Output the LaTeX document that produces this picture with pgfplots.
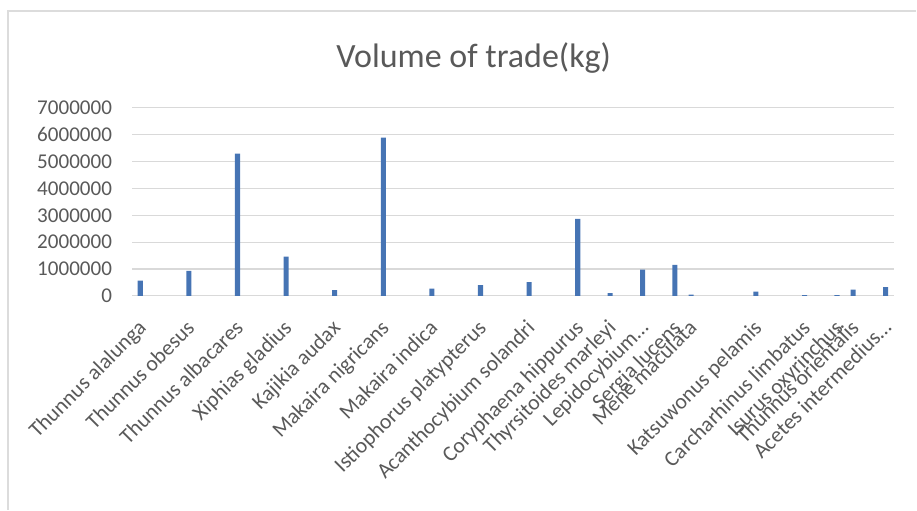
\documentclass[border=0pt]{standalone}
\usepackage{fontspec}
\setmainfont{Carlito}
\usepackage{pgfplots}
\pgfplotsset{compat=1.18}
\usepackage{pgfplotstable}

\definecolor{barblue}{RGB}{70,116,180}
\definecolor{txtgray}{RGB}{89,89,89}
\definecolor{gridgray}{RGB}{217,217,217}
\definecolor{framegray}{RGB}{220,220,220}

% position (category slot) and traded volume in kg
\pgfplotstableread{
pos volume
0  570000
3  930000
6  5300000
9  1460000
12 210000
15 5890000
18 270000
21 400000
24 510000
27 2870000
29 100000
31 975000
33 1150000
34 45000
38 160000
41 30000
43 30000
44 230000
46 325000
}\tradedata

\begin{document}
\begin{tikzpicture}
  % page extent and outer chart frame
  \path (0,0) rectangle (687.75pt,382.5pt);
  \draw[framegray, line width=0.9pt] (6pt,0) -- (6pt,374.25pt) -- (687.75pt,374.25pt);
  \node[txtgray, font=\fontsize{25.5}{30}\selectfont] at (355.5pt,339pt) {Volume of trade(kg)};
  \begin{axis}[
    at={(99.2pt,160.5pt)}, anchor=south west,
    scale only axis,
    width=571.5pt, height=141pt,
    xmin=-0.5, xmax=46.5,
    ymin=0, ymax=7000000,
    enlargelimits=false,
    axis line style={draw=none},
    ymajorgrids, grid style={gridgray, line width=0.8pt},
    major tick length=0pt,
    ytick={0,1000000,2000000,3000000,4000000,5000000,6000000,7000000},
    scaled y ticks=false,
    /pgf/number format/assume math mode=true,
    /pgf/number format/fixed,
    /pgf/number format/1000 sep={},
    yticklabel style={font=\fontsize{15.8}{18}\selectfont, text=txtgray, inner sep=0pt, anchor=east},
    yticklabel shift=15pt,
    xtick={0,3,6,9,12,15,18,21,24,27,29,31,33,34,38,41,43,44,46},
    xticklabels={Thunnus alalunga,Thunnus obesus,Thunnus albacares,Xiphias gladius,Kajikia audax,Makaira nigricans,Makaira indica,Istiophorus platypterus,Acanthocybium solandri,Coryphaena hippurus,Thyrsitoides marleyi,Lepidocybium…,Sergia lucens,Mene maculata,Katsuwonus pelamis,Carcharhinus limbatus,Isurus oxyrinchus,Thunnus orientalis,Acetes intermedius…},
    xticklabel style={font=\fontsize{16.3}{19}\selectfont, text=txtgray, rotate=45, anchor=north east, inner sep=0pt, xshift=-4pt},
    xticklabel shift=14pt,
    clip=false,
  ]
    \draw[gridgray, line width=0.8pt] (axis cs:-0.5,0) -- (axis cs:46.5,0);
    \addplot[ybar, bar width=3.8pt, fill=barblue, draw=none] table[x=pos, y=volume] {\tradedata};
  \end{axis}
\end{tikzpicture}
\end{document}
